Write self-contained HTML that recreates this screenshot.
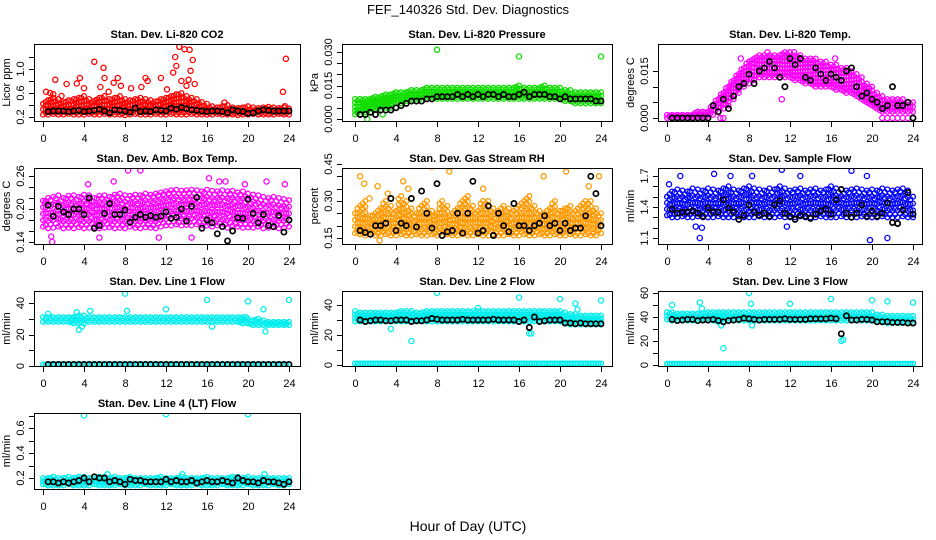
<!DOCTYPE html>
<html><head><meta charset="utf-8"><style>
html,body{margin:0;padding:0;background:#fff;}
svg{display:block;font-family:"Liberation Sans",sans-serif;}
</style></head><body>
<svg id="c" width="936" height="540" viewBox="0 0 936 540">
<rect width="936" height="540" fill="#fff"/>
<text x="468" y="14" text-anchor="middle" font-size="13">FEF_140326  Std. Dev. Diagnostics</text>
<text x="468" y="531" text-anchor="middle" font-size="14">Hour of Day (UTC)</text>
</svg>
<script>
const H49=[0,0.5,1,1.5,2,2.5,3,3.5,4,4.5,5,5.5,6,6.5,7,7.5,8,8.5,9,9.5,10,10.5,11,11.5,12,12.5,13,13.5,14,14.5,15,15.5,16,16.5,17,17.5,18,18.5,19,19.5,20,20.5,21,21.5,22,22.5,23,23.5,24];
const BH=[0.5,1,1.5,2,2.5,3,3.5,4,4.5,5,5.5,6,6.5,7,7.5,8,8.5,9,9.5,10,10.5,11,11.5,12,12.5,13,13.5,14,14.5,15,15.5,16,16.5,17,17.5,18,18.5,19,19.5,20,20.5,21,21.5,22,22.5,23,23.5,24];
const xTicks=[0,4,8,12,16,20,24];

// Panel 1 CO2
const co2Lo=[0.24,0.24,0.25,0.24,0.24,0.25,0.24,0.24,0.24,0.25,0.24,0.24,0.25,0.24,0.24,0.24,0.23,0.24,0.25,0.24,0.24,0.24,0.25,0.24,0.24,0.25,0.24,0.24,0.24,0.25,0.24,0.24,0.24,0.24,0.25,0.24,0.24,0.24,0.23,0.24,0.24,0.25,0.24,0.24,0.24,0.24,0.25,0.24,0.24];
const co2Hi=[0.42,0.48,0.52,0.5,0.45,0.48,0.5,0.52,0.55,0.5,0.47,0.52,0.55,0.5,0.52,0.55,0.5,0.48,0.5,0.52,0.5,0.48,0.46,0.5,0.52,0.55,0.58,0.6,0.55,0.52,0.5,0.45,0.42,0.38,0.36,0.38,0.4,0.36,0.35,0.36,0.38,0.36,0.35,0.36,0.37,0.36,0.35,0.36,0.34];
const co2Blk=[0.29,0.3,0.3,0.3,0.29,0.3,0.31,0.29,0.3,0.31,0.33,0.3,0.27,0.32,0.31,0.3,0.28,0.35,0.29,0.3,0.29,0.32,0.31,0.3,0.35,0.33,0.36,0.34,0.32,0.31,0.3,0.29,0.3,0.3,0.29,0.27,0.32,0.3,0.29,0.26,0.27,0.3,0.32,0.31,0.3,0.3,0.3,0.3];
const co2OutX=[0.3,0.7,1.0,1.2,1.8,2.3,3.3,3.6,4.0,5.0,5.6,5.9,6.0,6.4,6.9,7.3,7.6,8.6,9.6,10.0,10.2,11.5,12.1,12.7,12.9,13.0,13.3,13.5,13.8,14.0,14.2,14.3,14.4,14.6,14.8,17.7,23.4,23.7,23.6];
const co2OutY=[0.62,0.6,0.58,0.82,0.55,0.75,0.76,0.85,0.68,1.12,0.7,1.02,0.85,0.62,0.77,0.85,0.72,0.68,0.7,0.85,0.8,0.85,0.66,0.94,1.2,1.05,1.37,0.8,1.33,0.72,0.82,1.32,0.97,1.15,0.75,0.44,0.62,1.17,0.38];

// Panel 2 pressure
const prLo=[0.002,0.002,0.003,0.003,0.004,0.004,0.005,0.005,0.007,0.007,0.008,0.008,0.008,0.008,0.009,0.009,0.009,0.009,0.009,0.009,0.009,0.009,0.009,0.009,0.009,0.009,0.009,0.009,0.009,0.009,0.009,0.009,0.009,0.009,0.009,0.009,0.009,0.009,0.009,0.009,0.009,0.008,0.008,0.007,0.007,0.007,0.007,0.007,0.007];
const prHi=[0.009,0.009,0.009,0.009,0.010,0.010,0.011,0.011,0.012,0.012,0.012,0.013,0.013,0.013,0.014,0.014,0.014,0.014,0.014,0.014,0.014,0.014,0.014,0.014,0.014,0.014,0.014,0.014,0.014,0.014,0.014,0.014,0.015,0.014,0.014,0.014,0.014,0.015,0.014,0.014,0.014,0.013,0.013,0.012,0.012,0.012,0.012,0.012,0.012];
const prBlk=[0.002,0.002,0.003,0.002,0.004,0.004,0.004,0.005,0.006,0.007,0.008,0.008,0.008,0.009,0.009,0.010,0.010,0.010,0.010,0.011,0.010,0.011,0.010,0.011,0.010,0.011,0.011,0.010,0.011,0.010,0.010,0.011,0.012,0.010,0.011,0.011,0.011,0.010,0.010,0.009,0.010,0.009,0.009,0.009,0.009,0.009,0.008,0.008];
const prOutX=[8,16,24,1.2,0.2,2.7];
const prOutY=[0.031,0.028,0.028,0.0,0.003,0.002];

// Panel 3 Li-820 temp
const ltLo=[0,0,0,0,0,0,0,0,0,0.001,0.002,0.003,0.004,0.006,0.008,0.010,0.011,0.012,0.013,0.013,0.013,0.013,0.013,0.013,0.013,0.012,0.012,0.011,0.011,0.010,0.010,0.010,0.010,0.009,0.009,0.008,0.008,0.007,0.006,0.005,0.004,0.003,0.002,0.002,0.002,0.002,0.002,0.002,0.002];
const ltHi=[0.001,0.001,0.001,0.001,0.001,0.001,0.002,0.002,0.002,0.004,0.006,0.008,0.010,0.012,0.014,0.016,0.018,0.019,0.020,0.020,0.020,0.020,0.020,0.021,0.021,0.020,0.020,0.019,0.019,0.019,0.018,0.018,0.017,0.017,0.016,0.016,0.015,0.014,0.013,0.011,0.010,0.008,0.007,0.006,0.006,0.006,0.006,0.005,0.005];
const ltBlk=[0,0,0,0,0,0,0,0,0.004,0.002,0.006,0.003,0.007,0.010,0.011,0.014,0.011,0.015,0.016,0.018,0.016,0.013,0.010,0.019,0.017,0.019,0.013,0.012,0.016,0.014,0.012,0.014,0.013,0.012,0.015,0.016,0.010,0.007,0.008,0.006,0.005,0.003,0.004,0.010,0.004,0.004,0.005,0.000];
const ltOutX=[21,21.5,22,22.5,23,23.5,5.2,5.5,7.2,9.8,12.4,16.4,11.2];
const ltOutY=[0,0,0,0,0,0,0,0,0.019,0.021,0.021,0.019,0.006];

// Panel 4 ambient box temp
const abLo=[0.168,0.165,0.166,0.168,0.165,0.166,0.165,0.167,0.165,0.166,0.168,0.165,0.166,0.167,0.165,0.166,0.165,0.168,0.166,0.165,0.167,0.166,0.165,0.168,0.17,0.17,0.172,0.17,0.171,0.17,0.172,0.17,0.17,0.168,0.17,0.168,0.166,0.17,0.168,0.166,0.167,0.166,0.168,0.165,0.166,0.167,0.165,0.166,0.168];
const abHi=[0.215,0.22,0.222,0.225,0.22,0.224,0.225,0.222,0.226,0.225,0.22,0.224,0.225,0.222,0.226,0.228,0.225,0.224,0.226,0.225,0.228,0.226,0.228,0.23,0.232,0.234,0.235,0.233,0.234,0.235,0.234,0.232,0.235,0.233,0.232,0.234,0.232,0.233,0.23,0.232,0.228,0.226,0.225,0.222,0.22,0.222,0.22,0.218,0.216];
const abBlk=[0.207,0.187,0.205,0.195,0.19,0.2,0.2,0.19,0.22,0.165,0.17,0.192,0.21,0.19,0.19,0.198,0.176,0.185,0.19,0.185,0.188,0.185,0.187,0.195,0.183,0.185,0.2,0.178,0.205,0.221,0.165,0.18,0.175,0.155,0.168,0.142,0.16,0.184,0.183,0.218,0.192,0.175,0.19,0.17,0.168,0.188,0.158,0.18];
const abOutX=[9.5,8.3,16.2,17.8,21.8,23.6,6.9,0.8,0.9,5.5,17.2,11.3,14.5,19.7,0.2,4.4];
const abOutY=[0.27,0.27,0.256,0.25,0.25,0.245,0.25,0.15,0.14,0.148,0.25,0.148,0.148,0.245,0.21,0.245];

// Panel 5 gas stream RH
const rhLo=[0.17,0.165,0.16,0.165,0.16,0.16,0.165,0.16,0.16,0.165,0.16,0.16,0.165,0.16,0.16,0.165,0.16,0.16,0.165,0.16,0.16,0.165,0.16,0.16,0.165,0.16,0.16,0.165,0.16,0.16,0.165,0.16,0.16,0.165,0.16,0.16,0.165,0.16,0.16,0.165,0.16,0.16,0.165,0.16,0.16,0.165,0.16,0.16,0.17];
const rhHi=[0.25,0.28,0.3,0.24,0.25,0.27,0.3,0.28,0.26,0.32,0.3,0.27,0.25,0.28,0.3,0.26,0.25,0.3,0.28,0.25,0.27,0.3,0.32,0.28,0.26,0.3,0.3,0.27,0.26,0.28,0.27,0.26,0.28,0.3,0.32,0.28,0.26,0.25,0.27,0.3,0.26,0.27,0.28,0.26,0.28,0.3,0.3,0.27,0.25];
const rhBlk=[0.18,0.172,0.165,0.2,0.2,0.21,0.31,0.18,0.21,0.2,0.31,0.195,0.34,0.25,0.19,0.37,0.16,0.175,0.18,0.25,0.17,0.25,0.38,0.17,0.18,0.28,0.16,0.25,0.2,0.175,0.29,0.2,0.2,0.18,0.2,0.21,0.24,0.2,0.21,0.18,0.21,0.18,0.19,0.19,0.24,0.4,0.33,0.2];
const rhOutX=[0.5,0.9,2.2,4.7,5.2,7.5,9.2,16.2,18.4,20.6,22.8,23.8,2.4,3.2,1.4,12.5];
const rhOutY=[0.4,0.37,0.36,0.38,0.35,0.44,0.42,0.44,0.4,0.42,0.36,0.4,0.14,0.33,0.31,0.35];

// Panel 6 sample flow
const sfLo=[1.32,1.3,1.3,1.31,1.3,1.3,1.31,1.3,1.3,1.3,1.31,1.3,1.3,1.3,1.31,1.3,1.3,1.3,1.31,1.3,1.3,1.3,1.31,1.3,1.3,1.3,1.31,1.3,1.3,1.3,1.31,1.3,1.3,1.3,1.31,1.3,1.3,1.3,1.31,1.3,1.3,1.3,1.31,1.3,1.3,1.3,1.31,1.3,1.3];
const sfHi=[1.5,1.55,1.57,1.56,1.55,1.58,1.57,1.56,1.58,1.57,1.56,1.58,1.6,1.57,1.56,1.58,1.6,1.58,1.57,1.56,1.58,1.57,1.6,1.58,1.56,1.57,1.58,1.56,1.57,1.58,1.56,1.57,1.6,1.58,1.57,1.56,1.57,1.58,1.57,1.56,1.57,1.56,1.58,1.57,1.56,1.57,1.58,1.56,1.5];
const sfBlk=[1.38,1.34,1.35,1.35,1.36,1.34,1.31,1.39,1.35,1.35,1.47,1.39,1.35,1.28,1.32,1.42,1.35,1.32,1.34,1.31,1.42,1.46,1.34,1.31,1.28,1.32,1.31,1.29,1.33,1.36,1.38,1.33,1.47,1.57,1.34,1.3,1.34,1.42,1.31,1.36,1.31,1.34,1.44,1.25,1.24,1.37,1.54,1.33];
const sfOutX=[1.3,4.6,8.3,11.2,18,19.5,3.2,21.5,3.4,11.7,13,6.2,19.8,0.2,2.8];
const sfOutY=[1.7,1.72,1.7,1.76,1.75,1.7,1.1,1.1,1.2,1.21,1.7,1.7,1.08,1.62,1.21];

// Panel 7 line 1 flow
const l1Lo=[28,28,28,28,28,28,27,27,27,28,28,28,28,28,28,28,28,28,28,28,28,28,28,28,28,28,28,28,28,28,28,28,28,28,28,28,28,28,28,27,27,26,26,26,26,26,26,26,26];
const l1Hi=[31,31,31,31,31,31,31,32,32,31,31,31,31,31,31,31,31,31,31,31,31,31,31,31,31,31,31,31,31,31,31,31,31,31,31,31,31,31,31,31,30,29,30,29,28,28,28,28,28];
const l1Base=[1,1,1,1,1,1,1,1,1,1,1,1,1,1,1,1,1,1,1,1,1,1,1,1,1,1,1,1,1,1,1,1,1,1,1,1,1,1,1,1,1,1,1,1,1,1,1,1,1];
const l1Blk=[1,1,1,1,1,1,1,1,1,1,1,1,1,1,1,1,1,1,1,1,1,1,1,1,1,1,1,1,1,1,1,1,1,1,1,1,1,1,1,1,1,1,1,1,1,1,1,1];
const l1OutX=[0.5,3.3,3.5,4.6,8,8.2,12,16,16.5,20,21.5,21.7,24,19.8,3.8];
const l1OutY=[33,34,23,35,46,35,36,42,25,41,36,22,42,31,25];

// Panel 8 line 2 flow
const l2Lo=[29,29,29,29,29,29,29,29,29,29,29,29,29,29,29,29,29,29,29,29,29,29,29,29,29,29,29,29,29,29,29,29,29,29,29,29,29,29,29,29,29,28,27,27,27,27,27,27,27];
const l2Hi=[36,35,35,35,35,35,35,35,35,36,36,36,35,35,36,36,36,36,36,36,36,36,36,36,36,36,36,36,36,36,36,36,36,36,36,36,36,36,36,36,36,35,34,34,33,33,33,33,33];
const l2Base=[1,1,1,1,1,1,1,1,1,1,1,1,1,1,1,1,1,1,1,1,1,1,1,1,1,1,1,1,1,1,1,1,1,1,1,1,1,1,1,1,1,1,1,1,1,1,1,1,1];
const l2Blk=[30,29,29.5,30,30,29.5,29.5,30,30,30,29,29.5,29.5,30,31,30.5,30,30,30,30,30.5,30,30,30,30,30,30.5,30,30,30,30,29,30,25,32,29,29.5,30,30,30,28,28,27.5,28,27.5,27.5,27.5,27.5];
const l2OutX=[5.5,3.5,8,16,20,21.5,17,17.2,24,12,21.7];
const l2OutY=[16,24,48,45,44,41,21,21,43,38,37];

// Panel 9 line 3 flow
const l3Lo=[38,37,37,37,37,37,37,37,37,37,36,36,37,37,37,37,37,37,37,37,37,37,37,37,37,37,37,37,37,37,37,37,37,37,37,37,37,37,37,37,37,36,36,35,35,35,35,35,35];
const l3Hi=[44,44,43,43,43,43,43,43,44,44,44,44,44,44,44,44,44,44,44,44,44,44,44,44,44,44,44,44,44,44,44,44,44,44,44,44,44,44,44,44,44,42,42,41,41,41,41,41,41];
const l3Base=[1,1,1,1,1,1,1,1,1,1,1,1,1,1,1,1,1,1,1,1,1,1,1,1,1,1,1,1,1,1,1,1,1,1,1,1,1,1,1,1,1,1,1,1,1,1,1,1,1];
const l3Blk=[38,37,37.5,38,38,37,37.5,37.5,38,37,36,37,37.5,38,39,38.5,38,37.5,38,38,38,38,38.5,38,38,38,38,38.5,38.5,38.5,38.5,39,38.5,26,41,37.5,37.5,38,38,37.5,36,36,36,35.5,35.5,35.5,35,35];
const l3OutX=[0.5,3.2,5.5,8,8.2,12,16,17,17.2,20,21.5,24,3.4,5.3,8.3];
const l3OutY=[50,52,14,60,51,51,55,20,21,54,53,52,47,33,33];

// Panel 10 line 4 (LT) flow
const l4Lo=[0.15,0.14,0.14,0.14,0.14,0.15,0.14,0.14,0.14,0.14,0.15,0.14,0.14,0.14,0.14,0.15,0.14,0.14,0.14,0.14,0.15,0.14,0.14,0.14,0.14,0.15,0.14,0.14,0.14,0.14,0.15,0.14,0.14,0.14,0.14,0.15,0.14,0.14,0.14,0.14,0.15,0.14,0.14,0.14,0.14,0.15,0.14,0.14,0.15];
const l4Hi=[0.2,0.2,0.21,0.2,0.2,0.21,0.2,0.21,0.21,0.2,0.21,0.21,0.21,0.2,0.21,0.2,0.2,0.21,0.2,0.2,0.2,0.2,0.2,0.21,0.2,0.2,0.2,0.21,0.2,0.2,0.2,0.2,0.21,0.2,0.2,0.2,0.2,0.21,0.21,0.2,0.21,0.2,0.2,0.2,0.2,0.2,0.2,0.2,0.2];
const l4Blk=[0.17,0.17,0.16,0.17,0.16,0.17,0.18,0.2,0.17,0.21,0.2,0.2,0.17,0.18,0.17,0.15,0.19,0.18,0.18,0.17,0.17,0.17,0.17,0.19,0.17,0.18,0.17,0.17,0.18,0.16,0.17,0.18,0.17,0.17,0.18,0.17,0.16,0.2,0.18,0.17,0.17,0.16,0.18,0.17,0.17,0.16,0.15,0.17];
const l4OutX=[4,12,20,6.3,13.6,21.6];
const l4OutY=[0.7,0.71,0.71,0.23,0.23,0.23];

const NS='http://www.w3.org/2000/svg';
const svg=document.getElementById('c');
function mk(tag,attrs,parent){const e=document.createElementNS(NS,tag);for(const k in attrs)e.setAttribute(k,attrs[k]);(parent||svg).appendChild(e);return e;}

const colBox=[[34,300,43,289],[342,612,355,601],[658,922,667,913]];
const rowBox=[[44,121],[168,244],[291,366],[413,489]];

const panels=[
 {key:'co2',col:0,row:0,step:4.5,title:'Stan. Dev. Li-820 CO2',ylab:'Licor ppm',ya:[117,0.2],yb:[69,1.0],ticks:[0.2,0.4,0.6,0.8,1.0,1.2],labels:['0.2','0.6','1.0'],lab:[0.2,0.6,1.0],color:'#ff0000',clouds:[[co2Lo,co2Hi]],blk:co2Blk,ox:co2OutX,oy:co2OutY},
 {key:'pressure',col:1,row:0,step:3.5,title:'Stan. Dev. Li-820 Pressure',ylab:'kPa',ya:[119,0],yb:[52,0.03],ticks:[0,0.005,0.01,0.015,0.02,0.025,0.03],labels:['0.000','0.015','0.030'],lab:[0,0.015,0.03],color:'#11dd00',clouds:[[prLo,prHi]],blk:prBlk,ox:prOutX,oy:prOutY},
 {key:'li820-temp',col:2,row:0,step:4,title:'Stan. Dev. Li-820 Temp.',ylab:'degrees C',ya:[118,0],yb:[71,0.015],ticks:[0,0.005,0.01,0.015],labels:['0.000','0.015'],lab:[0,0.015],color:'#ff00ff',clouds:[[ltLo,ltHi]],blk:ltBlk,ox:ltOutX,oy:ltOutY},
 {key:'amb-box-temp',col:0,row:1,step:7,title:'Stan. Dev. Amb. Box Temp.',ylab:'degrees C',ya:[242,0.14],yb:[176,0.26],ticks:[0.14,0.16,0.18,0.2,0.22,0.24,0.26],labels:['0.14','0.20','0.26'],lab:[0.14,0.2,0.26],color:'#ff00ff',clouds:[[abLo,abHi]],blk:abBlk,ox:abOutX,oy:abOutY},
 {key:'gas-stream-rh',col:1,row:1,step:6,title:'Stan. Dev. Gas Stream RH',ylab:'percent',ya:[238,0.15],yb:[164,0.45],ticks:[0.15,0.2,0.25,0.3,0.35,0.4,0.45],labels:['0.15','0.30','0.45'],lab:[0.15,0.3,0.45],color:'#ff9900',clouds:[[rhLo,rhHi]],blk:rhBlk,ox:rhOutX,oy:rhOutY},
 {key:'sample-flow',col:2,row:1,step:6.5,title:'Stan. Dev. Sample Flow',ylab:'ml/min',ya:[238,1.1],yb:[176,1.7],ticks:[1.1,1.2,1.3,1.4,1.5,1.6,1.7],labels:['1.1','1.4','1.7'],lab:[1.1,1.4,1.7],color:'#0000ff',clouds:[[sfLo,sfHi]],blk:sfBlk,ox:sfOutX,oy:sfOutY},
 {key:'line1-flow',col:0,row:2,step:3.5,title:'Stan. Dev. Line 1 Flow',ylab:'ml/min',ya:[366,0],yb:[303,40],ticks:[0,10,20,30,40],labels:['0','20','40'],lab:[0,20,40],color:'#00eeee',clouds:[[l1Lo,l1Hi],[l1Base,l1Base]],blk:l1Blk,ox:l1OutX,oy:l1OutY},
 {key:'line2-flow',col:1,row:2,step:3.5,title:'Stan. Dev. Line 2 Flow',ylab:'ml/min',ya:[365,0],yb:[305,40],ticks:[0,10,20,30,40],labels:['0','20','40'],lab:[0,20,40],color:'#00eeee',clouds:[[l2Lo,l2Hi],[l2Base,l2Base]],blk:l2Blk,ox:l2OutX,oy:l2OutY},
 {key:'line3-flow',col:2,row:2,step:3.5,title:'Stan. Dev. Line 3 Flow',ylab:'ml/min',ya:[365,0],yb:[293,60],ticks:[0,10,20,30,40,50,60],labels:['0','20','40','60'],lab:[0,20,40,60],color:'#00eeee',clouds:[[l3Lo,l3Hi],[l3Base,l3Base]],blk:l3Blk,ox:l3OutX,oy:l3OutY},
 {key:'line4-flow',col:0,row:3,step:3.5,title:'Stan. Dev. Line 4 (LT) Flow',ylab:'ml/min',ya:[478,0.2],yb:[428,0.6],ticks:[0.2,0.3,0.4,0.5,0.6,0.7],labels:['0.2','0.4','0.6'],lab:[0.2,0.4,0.6],color:'#00eeee',clouds:[[l4Lo,l4Hi]],blk:l4Blk,ox:l4OutX,oy:l4OutY}
];

panels.forEach(p=>{
  const [bx0,bx1,x0,x24]=colBox[p.col];
  const [by0,by1]=rowBox[p.row];
  const xs=h=>x0+(x24-x0)*h/24;
  const ys=v=>p.ya[0]+(v-p.ya[1])*(p.yb[0]-p.ya[0])/(p.yb[1]-p.ya[1]);
  const g=mk('g',{});
  
  
  const clipId='clip-'+p.key;
  const cp=mk('clipPath',{id:clipId},g);
  mk('rect',{x:bx0,y:by0,width:bx1-bx0,height:by1-by0},cp);
  const pts=mk('g',{'clip-path':'url(#'+clipId+')',fill:'none','stroke-width':'1.3'},g);
  
  
  p.clouds.forEach(([lo,hi])=>{
    H49.forEach((h,i)=>{
      [-0.25,0].forEach((dh,j)=>{
        if(h+dh<0||h+dh>24)return;
        const yl=ys(lo[i]),yh=ys(hi[i]);
        const span=Math.abs(yl-yh);
        const n=Math.max(1,Math.round(span/p.step));
        for(let k=0;k<=n;k++){
          let y=yl+(yh-yl)*k/n;
          if(j===0&&span>2)y=yl+(yh-yl)*(k+0.5)/(n+1);
          const c=mk('circle',{cx:xs(h+dh).toFixed(1),cy:y.toFixed(1),r:2.4,stroke:p.color},pts);
          
          
        }
      });
    });
  });
  p.ox.forEach((h,i)=>{
    const c=mk('circle',{cx:xs(h).toFixed(1),cy:ys(p.oy[i]).toFixed(1),r:2.6,stroke:p.color},pts);
    
    
  });
  p.blk.forEach((v,i)=>{
    const c=mk('circle',{cx:xs(BH[i]).toFixed(1),cy:ys(v).toFixed(1),r:2.6,stroke:'#000','stroke-width':1.7},pts);
    
    
  });
  const b=mk('rect',{x:bx0+0.5,y:by0+0.5,width:bx1-bx0,height:by1-by0,fill:'none',stroke:'#000','stroke-width':1},g);
  
  
  const t=mk('text',{x:(bx0+bx1)/2,y:by0-6,'text-anchor':'middle','font-size':'11','font-weight':'bold'},g);
  t.textContent=p.title;
  
  
  xTicks.forEach(h=>{
    const x=Math.round(xs(h))+0.5;
    mk('line',{x1:x,x2:x,y1:by1,y2:by1+6,stroke:'#000'},g);
    const tl=mk('text',{x:x,y:by1+21,'text-anchor':'middle','font-size':'11'},g);
    tl.textContent=String(h);
    
    
  });
  p.ticks.forEach(v=>{
    const y=Math.round(ys(v))+0.5;
    mk('line',{x1:bx0-5,x2:bx0,y1:y,y2:y,stroke:'#000'},g);
  });
  p.lab.forEach((v,i)=>{
    const y=ys(v);
    const tl=mk('text',{x:bx0-10,y:y,'text-anchor':'middle','font-size':'11',transform:'rotate(-90 '+(bx0-10)+' '+y+')'},g);
    tl.textContent=p.labels[i];
    
    
  });
  const cy=(by0+by1)/2, lx=bx0-24;
  const yl=mk('text',{x:lx,y:cy,'text-anchor':'middle','font-size':'11',transform:'rotate(-90 '+lx+' '+cy+')'},g);
  yl.textContent=p.ylab;
  
  
});
</script>
</body></html>
